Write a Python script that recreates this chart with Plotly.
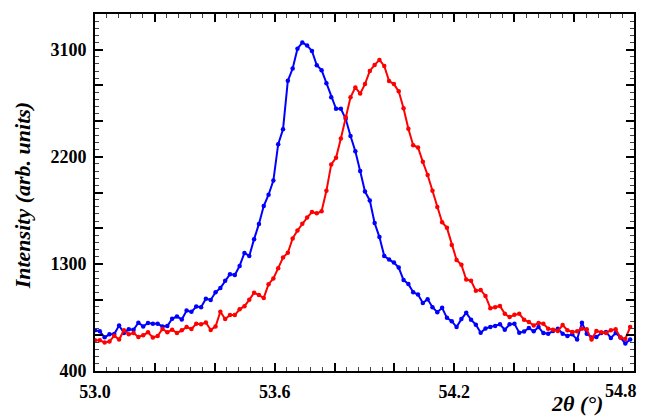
import plotly.graph_objects as go

# 2theta sampling grid (degrees)
two_theta_start = 53.0
two_theta_step = 0.0161
n_points = 112
two_theta = [round(two_theta_start + i * two_theta_step, 4) for i in range(n_points)]

blue_intensity = [
    742, 733, 683, 708, 711, 783, 719, 750, 747, 806,
    775, 803, 797, 797, 775, 778, 839, 858, 833, 908,
    897, 942, 936, 1007, 997, 1061, 1097, 1158, 1214, 1206,
    1283, 1392, 1367, 1508, 1636, 1786, 1881, 2000, 2306, 2431,
    2839, 2942, 3108, 3160, 3136, 3089, 2969, 2928, 2819, 2700,
    2603, 2603, 2519, 2375, 2247, 2081, 1908, 1833, 1644, 1525,
    1367, 1336, 1311, 1269, 1164, 1131, 1061, 1042, 972, 1003,
    936, 894, 931, 847, 819, 769, 836, 889, 831, 789,
    722, 758, 769, 778, 792, 747, 792, 797, 722, 731,
    761, 733, 769, 719, 714, 736, 756, 714, 694, 708,
    664, 806, 714, 681, 686, 719, 728, 678, 719, 681,
    631, 664,
]

red_intensity = [
    658, 658, 639, 647, 697, 664, 742, 708, 719, 686,
    700, 725, 681, 694, 753, 725, 747, 719, 742, 769,
    753, 797, 792, 808, 745, 773, 898, 836, 870, 870,
    918, 945, 998, 1058, 1038, 1014, 1130, 1178, 1264, 1353,
    1394, 1514, 1581, 1637, 1689, 1736, 1725, 1742, 1914, 2136,
    2192, 2353, 2533, 2700, 2783, 2731, 2811, 2922, 2972, 3014,
    2964, 2836, 2811, 2750, 2608, 2436, 2297, 2278, 2158, 2047,
    1914, 1778, 1650, 1603, 1458, 1333, 1292, 1169, 1158, 1075,
    1081, 1031, 928, 936, 947, 881, 853, 872, 881, 831,
    811, 783, 803, 797, 756, 747, 736, 786, 742, 728,
    733, 756, 750, 664, 736, 725, 719, 742, 750, 681,
    669, 769,
]

x_tick_vals = [53.0, 53.2, 53.4, 53.6, 53.8, 54.0, 54.2, 54.4, 54.6, 54.8]
x_tick_text = ["53.0", "", "", "53.6", "", "", "54.2", "", "", ""]
x_last_label = "54.8"
y_tick_vals = [400, 700, 1000, 1300, 1600, 1900, 2200, 2500, 2800, 3100, 3400]
y_tick_text = ["400", "", "", "1300", "", "", "2200", "", "", "3100", ""]

FONT = "Times New Roman, Liberation Serif, serif"

fig = go.Figure()
fig.add_trace(go.Scatter(
    x=two_theta, y=blue_intensity, mode="lines+markers",
    line=dict(color="#0000FF", width=2),
    marker=dict(color="#0000FF", size=4.5),
    showlegend=False,
))
fig.add_trace(go.Scatter(
    x=two_theta, y=red_intensity, mode="lines+markers",
    line=dict(color="#FF0000", width=2),
    marker=dict(color="#FF0000", size=4.5),
    showlegend=False,
))

tick_font = dict(family=FONT, size=18, color="black", weight="bold")
axis_common = dict(
    showline=True, linecolor="black", linewidth=2,
    mirror="allticks", ticks="inside", tickcolor="black",
    tickwidth=2, ticklen=8, showgrid=False, zeroline=False,
    tickfont=tick_font,
)

fig.update_xaxes(
    range=[53.0, 54.8], tickmode="array", tickvals=x_tick_vals, ticktext=x_tick_text,
    minor=dict(ticks="inside", ticklen=4, tickwidth=1, tickcolor="#444", dtick=0.04, tick0=53.0, showgrid=False),
    ticklabelstandoff=3,
    **axis_common,
)
fig.update_yaxes(
    range=[400, 3400], tickmode="array", tickvals=y_tick_vals, ticktext=y_tick_text,
    minor=dict(ticks="inside", ticklen=4, tickwidth=1, tickcolor="#444", dtick=60, tick0=400, showgrid=False),
    ticklabelstandoff=3,
    **axis_common,
)

# page adds an 8px body margin, so the figure is sized to fit the 647x420 window
fig.update_layout(
    width=639, height=412,
    margin=dict(l=87, r=13, t=4, b=49),
    plot_bgcolor="white", paper_bgcolor="white",
    annotations=[
        dict(text="<b>" + x_last_label + "</b>", xref="x", yref="paper",
             x=54.8, y=0, yanchor="top", xanchor="right", xshift=5, yshift=-8,
             showarrow=False, font=dict(family=FONT, size=18, color="black")),
        dict(text="<b><i>Intensity (arb. units)</i></b>", xref="paper", yref="paper",
             x=-0.135, y=0.49, xanchor="center", yanchor="middle", textangle=-90,
             showarrow=False, font=dict(family=FONT, size=22, color="black")),
        dict(text="<b><i>2θ (°)</i></b>", xref="paper", yref="paper",
             x=0.894, y=-0.092, xanchor="center", yanchor="middle",
             showarrow=False, font=dict(family=FONT, size=22, color="black")),
    ],
)

fig.write_html("out.html")
